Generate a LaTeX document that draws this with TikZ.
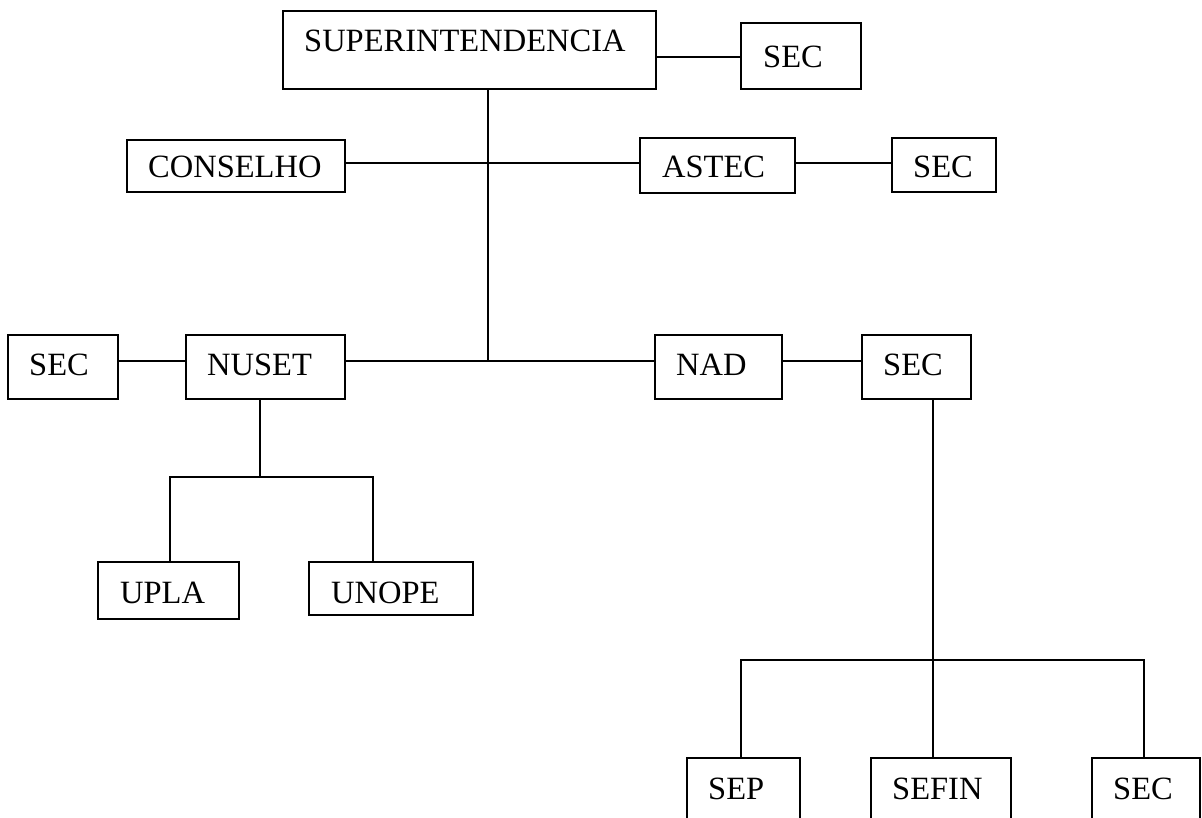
\documentclass[tikz,border=0pt]{standalone}
\usepackage{fontspec}
\setmainfont{Liberation Serif}
\tikzset{
  box/.style={draw, line width=2pt, inner sep=0pt, rectangle},
  lbl/.style={anchor=base west, inner sep=0pt, font=\fontsize{32.5}{38}\selectfont},
  wire/.style={line width=2pt, line cap=rect}
}
\newcommand\obox[5]{\node[box, minimum width={#4-#2}, minimum height={#5-#3}] (#1) at ({(#2+#4)/2},{(#3+#5)/2}) {};}
\begin{document}
\begin{tikzpicture}[x=1pt,y=-1pt]
\useasboundingbox (0,0) rectangle (1202,818);
% boxes
\obox{super}{283}{11}{656}{89}
\obox{secA}{741}{23}{861}{89}
\obox{cons}{127}{140}{345}{192}
\obox{astec}{640}{138}{795}{193}
\obox{secB}{892}{138}{996}{192}
\obox{secC}{8}{335}{118}{399}
\obox{nuset}{186}{335}{345}{399}
\obox{nad}{655}{335}{782}{399}
\obox{secD}{862}{335}{971}{399}
\obox{upla}{98}{562}{239}{619}
\obox{unope}{309}{562}{473}{615}
\obox{sep}{687}{758}{800}{850}
\obox{sefin}{871}{758}{1011}{850}
\obox{secE}{1092}{758}{1200}{850}
% labels
\node[lbl] (tsuper) at (304,52) {SUPERINTENDENCIA};
\node[lbl] (tsecA) at (763,68) {SEC};
\node[lbl] (tcons) at (148,178) {CONSELHO};
\node[lbl] (tastec) at (662,178) {ASTEC};
\node[lbl] (tsecB) at (913,178) {SEC};
\node[lbl] (tsecC) at (29,375) {SEC};
\node[lbl] (tnuset) at (207,375) {NUSET};
\node[lbl] (tnad) at (676,375) {NAD};
\node[lbl] (tsecD) at (883,375) {SEC};
\node[lbl] (tupla) at (120,603) {UPLA};
\node[lbl] (tunope) at (331,603) {UNOPE};
\node[lbl] (tsep) at (708,799) {SEP};
\node[lbl] (tsefin) at (892,799) {SEFIN};
\node[lbl] (tsecE) at (1113,799) {SEC};
% junctions
\coordinate (j1) at (488,163);
\coordinate (j2) at (488,361);
\coordinate (j3) at (933,660);
\coordinate (j4) at (260,477);
\coordinate (j4l) at (170,477);
\coordinate (j4r) at (373,477);
\coordinate (j3l) at (741,660);
\coordinate (j3r) at (1144,660);
% connectors
\draw[wire] (super.east |- 0,57) -- (secA.west |- 0,57);
\draw[wire] (super.south -| j1) -- (j2);
\draw[wire] (cons.east |- j1) -- (astec.west |- j1);
\draw[wire] (astec.east |- j1) -- (secB.west |- j1);
\draw[wire] (secC.east |- j2) -- (nuset.west |- j2);
\draw[wire] (nuset.east |- j2) -- (nad.west |- j2);
\draw[wire] (nad.east |- j2) -- (secD.west |- j2);
\draw[wire] (secD.south -| j3) -- (j3);
\draw[wire] (sep.north -| j3l) -- (j3l) -- (j3r) -- (secE.north -| j3r);
\draw[wire] (j3) -- (sefin.north -| j3);
\draw[wire] (nuset.south -| j4) -- (j4);
\draw[wire] (upla.north -| j4l) -- (j4l) -- (j4r) -- (unope.north -| j4r);
\end{tikzpicture}
\end{document}
